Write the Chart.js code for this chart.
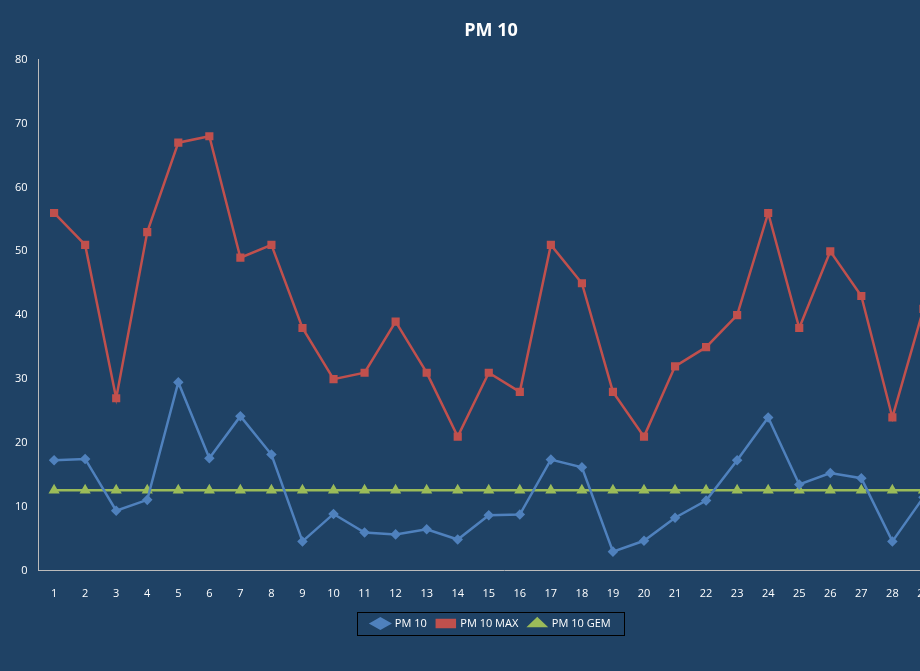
<!DOCTYPE html>
<html><head><meta charset="utf-8">
<script src="https://cdn.jsdelivr.net/npm/chart.js@4.4.0/dist/chart.umd.min.js"></script>
<style>html,body{margin:0;padding:0;overflow:hidden;background:#1F4265;}
#wrap{width:980px;height:671px;position:relative;}</style>
</head><body><div id="wrap"><canvas id="c"></canvas></div>
<script>
const categories = Array.from({length:30},(_,i)=>String(i+1));
const pm10 = [17.3,17.5,9.4,11.1,29.5,17.6,24.2,18.2,4.6,8.9,6.0,5.7,6.5,4.9,8.7,8.8,17.4,16.2,3.0,4.7,8.3,11.0,17.3,24.0,13.5,15.3,14.5,4.6,11.5,12.0];
const pm10Max = [56,51,27,53,67,68,49,51,38,30,31,39,31,21,31,28,51,45,28,21,32,35,40,56,38,50,43,24,41,35];
const pm10Gem = Array(30).fill(12.6);
const yTicks = [0,10,20,30,40,50,60,70,80];

const legendBox = {id:'legendBox',afterDraw(ch){const l=ch.legend;const h=l.legendHitBoxes;if(!h||!h.length)return;
const c=ch.ctx;const x0=Math.min(...h.map(b=>b.left))-14,x1=Math.max(...h.map(b=>b.left+b.width))+14;
const y0=h[0].top-6,y1=h[0].top+h[0].height+6;
c.save();c.strokeStyle='#000';c.lineWidth=1;c.strokeRect(Math.round(x0)+0.5,Math.round(y0)+0.5,Math.round(x1-x0),Math.round(y1-y0));c.restore();}};

new Chart(document.getElementById('c'),{
 type:'line',
 data:{labels:categories,datasets:[
  {label:'PM 10',data:pm10,borderColor:'#4F81BD',backgroundColor:'#4F81BD',pointStyle:'rectRot',pointRadius:3.5,borderWidth:2.5,tension:0},
  {label:'PM 10 MAX',data:pm10Max,borderColor:'#C0504D',backgroundColor:'#C0504D',pointStyle:'rect',pointRadius:4,borderWidth:2.5,tension:0},
  {label:'PM 10 GEM',data:pm10Gem,borderColor:'#9BBB59',backgroundColor:'#9BBB59',pointStyle:'triangle',pointRadius:4,borderWidth:2.5,tension:0}
 ]},
 options:{responsive:true,maintainAspectRatio:false,animation:false,
  layout:{padding:{left:12,right:10,top:12,bottom:32}},
  plugins:{
   title:{display:true,text:'PM 10',color:'#fff',font:{family:'Open Sans',size:18,weight:'bold'},padding:{top:8,bottom:18}},
   legend:{position:'bottom',labels:{color:'#fff',font:{family:'Open Sans',size:11},usePointStyle:true,pointStyleWidth:18,boxHeight:7,padding:10}},
   tooltip:{enabled:false}
  },
  scales:{
   x:{offset:true,grid:{display:false},border:{color:'#bbb'},ticks:{color:'#fff',font:{family:'Open Sans',size:11},maxRotation:0,autoSkip:false,padding:8}},
   y:{min:0,max:80,afterBuildTicks(a){a.ticks=yTicks.map(v=>({value:v}));},grid:{display:false},border:{color:'#bbb'},ticks:{color:'#fff',font:{family:'Open Sans',size:11}}}
  }
 },
 plugins:[legendBox]
});
</script></body></html>
